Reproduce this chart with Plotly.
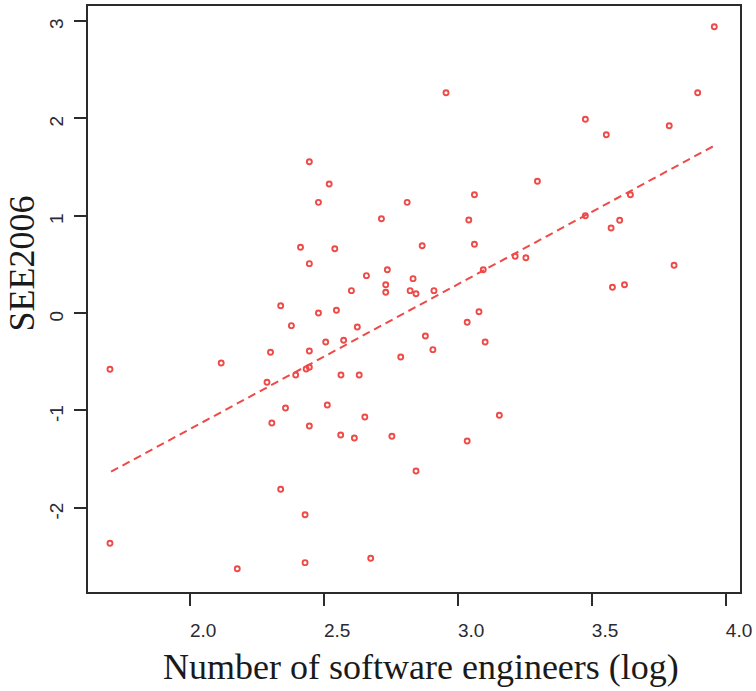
import plotly.graph_objects as go

# Number of software engineers (log) per country
eng_log = [
    1.701, 1.701, 2.116, 2.176, 2.287, 2.300, 2.305, 2.338, 2.338, 2.356,
    2.378, 2.394, 2.412, 2.429, 2.429, 2.433, 2.445, 2.445, 2.445, 2.445,
    2.445, 2.479, 2.479, 2.506, 2.512, 2.519, 2.540, 2.546, 2.562, 2.563,
    2.573, 2.602, 2.613, 2.624, 2.631, 2.652, 2.658, 2.674, 2.714, 2.730,
    2.730, 2.736, 2.753, 2.786, 2.810, 2.821, 2.832, 2.843, 2.843, 2.866,
    2.878, 2.906, 2.910, 2.955, 3.034, 3.034, 3.040, 3.061, 3.061, 3.078,
    3.094, 3.101, 3.154, 3.213, 3.253, 3.296, 3.475, 3.475, 3.553, 3.571,
    3.576, 3.603, 3.621, 3.643, 3.788, 3.806, 3.894, 3.956,
]

# SEE2006 score for the same countries
see2006 = [
    -0.577, -2.362, -0.513, -2.623, -0.711, -0.403, -1.128, 0.075, -1.808, -0.974,
    -0.130, -0.636, 0.674, -2.069, -2.561, -0.574, 1.552, 0.506, -0.390, -0.557,
    -1.159, 1.135, 0.000, -0.297, -0.944, 1.323, 0.659, 0.028, -1.251, -0.636,
    -0.280, 0.229, -1.282, -0.144, -0.636, -1.067, 0.383, -2.516, 0.967, 0.290,
    0.212, 0.444, -1.265, -0.451, 1.135, 0.229, 0.352, 0.198, -1.621, 0.690,
    -0.236, -0.376, 0.229, 2.259, -0.095, -1.313, 0.954, 1.213, 0.705, 0.013,
    0.444, -0.297, -1.049, 0.582, 0.567, 1.351, 1.987, 0.998, 1.829, 0.872,
    0.264, 0.951, 0.290, 1.213, 1.921, 0.489, 2.259, 2.936,
]

# Linear fit endpoints
fit_x = [1.705, 3.956]
fit_y = [-1.628, 1.716]

x_ticks = [2.0, 2.5, 3.0, 3.5, 4.0]
x_tick_text = ["2.0", "2.5", "3.0", "3.5", "4.0"]
y_ticks = [-2, -1, 0, 1, 2, 3]
y_tick_text = ["-2", "-1", "0", "1", "2", "3"]

red = "#EE4A48"
axis_col = "#2b2b2b"

fig = go.Figure()
fig.add_trace(go.Scatter(
    x=eng_log, y=see2006, mode="markers",
    marker=dict(symbol="circle-open", size=5, color=red, line=dict(width=1.9, color=red)),
    showlegend=False, hoverinfo="x+y",
))
fig.add_trace(go.Scatter(
    x=fit_x, y=fit_y, mode="lines",
    line=dict(color=red, width=2, dash="8px,5px"),
    showlegend=False, hoverinfo="skip",
))

fig.update_layout(
    width=756, height=691,
    margin=dict(l=88, r=16, t=6, b=99, autoexpand=False),
    paper_bgcolor="white", plot_bgcolor="white",
    font=dict(family="Liberation Sans, Arial, sans-serif", size=19, color="#2a2a33"),
    annotations=[
        dict(text="Number of software engineers (log)", xref="paper", yref="paper",
             x=(421 - 88) / 652, y=(592 - 667) / 586, xanchor="center", yanchor="middle",
             showarrow=False,
             font=dict(family="Liberation Serif, Times New Roman, serif", size=36, color="#1a1a1a")),
        dict(text="SEE2006", xref="paper", yref="paper",
             x=(21 - 88) / 652, y=(592 - 263.5) / 586, xanchor="center", yanchor="middle",
             textangle=-90, showarrow=False,
             font=dict(family="Liberation Serif, Times New Roman, serif", size=36, color="#1a1a1a")),
    ],
)

fig.update_xaxes(
    range=[1.619, 4.052], tickvals=x_ticks, ticktext=x_tick_text,
    showgrid=False, zeroline=False,
    showline=True, linecolor=axis_col, linewidth=2, mirror=True,
    ticks="outside", ticklen=12, tickwidth=2, tickcolor=axis_col,
    ticklabelshift=13, ticklabelstandoff=8,
)
fig.update_yaxes(
    range=[-2.862, 3.149], tickvals=y_ticks, ticktext=y_tick_text,
    showgrid=False, zeroline=False,
    showline=True, linecolor=axis_col, linewidth=2, mirror=True,
    ticks="outside", ticklen=12, tickwidth=2, tickcolor=axis_col,
    tickangle=-90, ticklabelshift=6, ticklabelstandoff=3,
)

fig.write_html("out.html")
